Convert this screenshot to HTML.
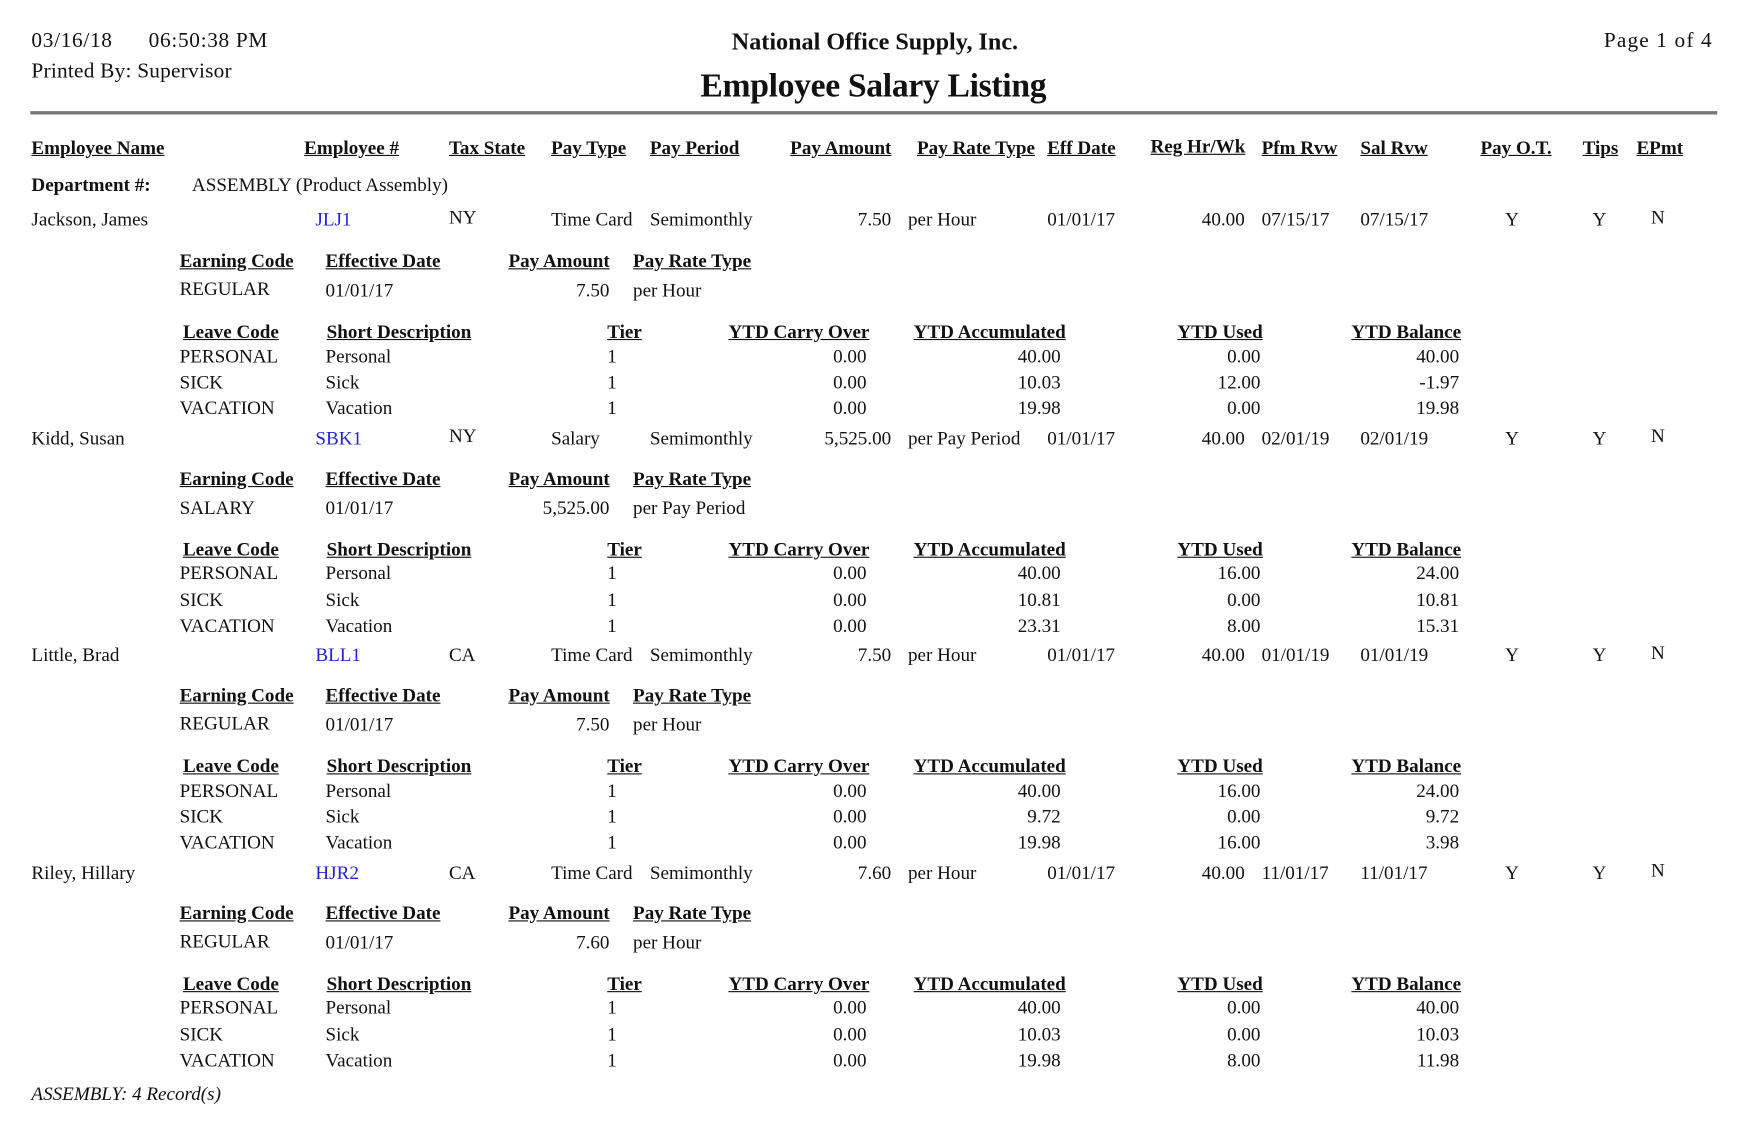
<!DOCTYPE html>
<html><head><meta charset="utf-8"><style>
html,body{margin:0;padding:0;background:#fff;overflow:hidden;width:1759px;height:1121px}
#w{position:absolute;left:0;top:0;width:1567px;height:999px;transform:scale(1.1224);transform-origin:0 0;font-family:"Liberation Serif",serif;font-size:17px;color:#111;letter-spacing:0}
#w div{position:absolute;white-space:nowrap;line-height:20px}
.h{font-weight:bold;text-decoration:underline}
.b{color:#2222dd}
.r{text-align:right}
</style></head><body><div id="w">
<div style="left:28px;top:27px;font-size:19px;letter-spacing:0.6px">03/16/18 &nbsp;&nbsp;&nbsp;&nbsp; 06:50:38 PM</div>
<div style="left:28px;top:54px;font-size:19px;letter-spacing:0.2px">Printed By: Supervisor</div>
<div style="left:652px;top:27px;font-size:21.5px;font-weight:bold">National Office Supply, Inc.</div>
<div style="left:624px;top:61px;font-size:30px;font-weight:bold;line-height:32px;letter-spacing:-0.3px">Employee Salary Listing</div>
<div style="left:1429px;top:27px;font-size:19px;letter-spacing:1px">Page 1 of 4</div>
<div style="left:27px;top:99px;width:1503px;height:3px;background:#777"></div>

<div class="h" style="left:28px;top:122px">Employee Name</div>
<div class="h" style="left:271px;top:122px">Employee #</div>
<div class="h" style="left:400px;top:122px">Tax State</div>
<div class="h" style="left:491px;top:122px">Pay Type</div>
<div class="h" style="left:579px;top:122px">Pay Period</div>
<div class="h" style="left:704px;top:122px">Pay Amount</div>
<div class="h" style="left:817px;top:122px">Pay Rate Type</div>
<div class="h" style="left:933px;top:122px">Eff Date</div>
<div class="h" style="left:1025px;top:121px">Reg Hr/Wk</div>
<div class="h" style="left:1124px;top:122px">Pfm Rvw</div>
<div class="h" style="left:1212px;top:122px">Sal Rvw</div>
<div class="h" style="left:1319px;top:122px">Pay O.T.</div>
<div class="h" style="left:1410px;top:122px">Tips</div>
<div class="h" style="left:1458px;top:122px">EPmt</div>

<div style="left:28px;top:155px;font-weight:bold">Department #:</div>
<div style="left:171px;top:155px">ASSEMBLY (Product Assembly)</div>

<div style="left:28px;top:186px">Jackson, James</div>
<div class="b" style="left:281px;top:186px">JLJ1</div>
<div style="left:400px;top:184px">NY</div>
<div style="left:491px;top:186px">Time Card</div>
<div style="left:579px;top:186px">Semimonthly</div>
<div class="r" style="right:773px;top:186px">7.50</div>
<div style="left:809px;top:186px">per Hour</div>
<div style="left:933px;top:186px">01/01/17</div>
<div class="r" style="right:458px;top:186px">40.00</div>
<div style="left:1124px;top:186px">07/15/17</div>
<div style="left:1212px;top:186px">07/15/17</div>
<div style="left:1341px;top:186px">Y</div>
<div style="left:1419px;top:186px">Y</div>
<div style="left:1471px;top:184px">N</div>
<div class="h" style="left:160px;top:223px">Earning Code</div>
<div class="h" style="left:290px;top:223px">Effective Date</div>
<div class="h" style="left:453px;top:223px">Pay Amount</div>
<div class="h" style="left:564px;top:223px">Pay Rate Type</div>
<div style="left:160px;top:248px">REGULAR</div>
<div style="left:290px;top:249px">01/01/17</div>
<div class="r" style="right:1024px;top:249px">7.50</div>
<div style="left:564px;top:249px">per Hour</div>
<div class="h" style="left:163px;top:286px">Leave Code</div>
<div class="h" style="left:291px;top:286px">Short Description</div>
<div class="h" style="left:541px;top:286px">Tier</div>
<div class="h" style="left:649px;top:286px">YTD Carry Over</div>
<div class="h" style="left:814px;top:286px">YTD Accumulated</div>
<div class="h" style="left:1049px;top:286px">YTD Used</div>
<div class="h" style="left:1204px;top:286px">YTD Balance</div>
<div style="left:160px;top:308px">PERSONAL</div><div style="left:290px;top:308px">Personal</div><div style="left:541px;top:308px">1</div><div class="r" style="right:795px;top:308px">0.00</div><div class="r" style="right:622px;top:308px">40.00</div><div class="r" style="right:444px;top:308px">0.00</div><div class="r" style="right:267px;top:308px">40.00</div>
<div style="left:160px;top:331px">SICK</div><div style="left:290px;top:331px">Sick</div><div style="left:541px;top:331px">1</div><div class="r" style="right:795px;top:331px">0.00</div><div class="r" style="right:622px;top:331px">10.03</div><div class="r" style="right:444px;top:331px">12.00</div><div class="r" style="right:267px;top:331px">-1.97</div>
<div style="left:160px;top:354px">VACATION</div><div style="left:290px;top:354px">Vacation</div><div style="left:541px;top:354px">1</div><div class="r" style="right:795px;top:354px">0.00</div><div class="r" style="right:622px;top:354px">19.98</div><div class="r" style="right:444px;top:354px">0.00</div><div class="r" style="right:267px;top:354px">19.98</div>

<div style="left:28px;top:381px">Kidd, Susan</div>
<div class="b" style="left:281px;top:381px">SBK1</div>
<div style="left:400px;top:379px">NY</div>
<div style="left:491px;top:381px">Salary</div>
<div style="left:579px;top:381px">Semimonthly</div>
<div class="r" style="right:773px;top:381px">5,525.00</div>
<div style="left:809px;top:381px">per Pay Period</div>
<div style="left:933px;top:381px">01/01/17</div>
<div class="r" style="right:458px;top:381px">40.00</div>
<div style="left:1124px;top:381px">02/01/19</div>
<div style="left:1212px;top:381px">02/01/19</div>
<div style="left:1341px;top:381px">Y</div>
<div style="left:1419px;top:381px">Y</div>
<div style="left:1471px;top:379px">N</div>
<div class="h" style="left:160px;top:417px">Earning Code</div>
<div class="h" style="left:290px;top:417px">Effective Date</div>
<div class="h" style="left:453px;top:417px">Pay Amount</div>
<div class="h" style="left:564px;top:417px">Pay Rate Type</div>
<div style="left:160px;top:443px">SALARY</div>
<div style="left:290px;top:443px">01/01/17</div>
<div class="r" style="right:1024px;top:443px">5,525.00</div>
<div style="left:564px;top:443px">per Pay Period</div>
<div class="h" style="left:163px;top:480px">Leave Code</div>
<div class="h" style="left:291px;top:480px">Short Description</div>
<div class="h" style="left:541px;top:480px">Tier</div>
<div class="h" style="left:649px;top:480px">YTD Carry Over</div>
<div class="h" style="left:814px;top:480px">YTD Accumulated</div>
<div class="h" style="left:1049px;top:480px">YTD Used</div>
<div class="h" style="left:1204px;top:480px">YTD Balance</div>
<div style="left:160px;top:501px">PERSONAL</div><div style="left:290px;top:501px">Personal</div><div style="left:541px;top:501px">1</div><div class="r" style="right:795px;top:501px">0.00</div><div class="r" style="right:622px;top:501px">40.00</div><div class="r" style="right:444px;top:501px">16.00</div><div class="r" style="right:267px;top:501px">24.00</div>
<div style="left:160px;top:525px">SICK</div><div style="left:290px;top:525px">Sick</div><div style="left:541px;top:525px">1</div><div class="r" style="right:795px;top:525px">0.00</div><div class="r" style="right:622px;top:525px">10.81</div><div class="r" style="right:444px;top:525px">0.00</div><div class="r" style="right:267px;top:525px">10.81</div>
<div style="left:160px;top:548px">VACATION</div><div style="left:290px;top:548px">Vacation</div><div style="left:541px;top:548px">1</div><div class="r" style="right:795px;top:548px">0.00</div><div class="r" style="right:622px;top:548px">23.31</div><div class="r" style="right:444px;top:548px">8.00</div><div class="r" style="right:267px;top:548px">15.31</div>

<div style="left:28px;top:574px">Little, Brad</div>
<div class="b" style="left:281px;top:574px">BLL1</div>
<div style="left:400px;top:574px">CA</div>
<div style="left:491px;top:574px">Time Card</div>
<div style="left:579px;top:574px">Semimonthly</div>
<div class="r" style="right:773px;top:574px">7.50</div>
<div style="left:809px;top:574px">per Hour</div>
<div style="left:933px;top:574px">01/01/17</div>
<div class="r" style="right:458px;top:574px">40.00</div>
<div style="left:1124px;top:574px">01/01/19</div>
<div style="left:1212px;top:574px">01/01/19</div>
<div style="left:1341px;top:574px">Y</div>
<div style="left:1419px;top:574px">Y</div>
<div style="left:1471px;top:572px">N</div>
<div class="h" style="left:160px;top:610px">Earning Code</div>
<div class="h" style="left:290px;top:610px">Effective Date</div>
<div class="h" style="left:453px;top:610px">Pay Amount</div>
<div class="h" style="left:564px;top:610px">Pay Rate Type</div>
<div style="left:160px;top:635px">REGULAR</div>
<div style="left:290px;top:636px">01/01/17</div>
<div class="r" style="right:1024px;top:636px">7.50</div>
<div style="left:564px;top:636px">per Hour</div>
<div class="h" style="left:163px;top:673px">Leave Code</div>
<div class="h" style="left:291px;top:673px">Short Description</div>
<div class="h" style="left:541px;top:673px">Tier</div>
<div class="h" style="left:649px;top:673px">YTD Carry Over</div>
<div class="h" style="left:814px;top:673px">YTD Accumulated</div>
<div class="h" style="left:1049px;top:673px">YTD Used</div>
<div class="h" style="left:1204px;top:673px">YTD Balance</div>
<div style="left:160px;top:695px">PERSONAL</div><div style="left:290px;top:695px">Personal</div><div style="left:541px;top:695px">1</div><div class="r" style="right:795px;top:695px">0.00</div><div class="r" style="right:622px;top:695px">40.00</div><div class="r" style="right:444px;top:695px">16.00</div><div class="r" style="right:267px;top:695px">24.00</div>
<div style="left:160px;top:718px">SICK</div><div style="left:290px;top:718px">Sick</div><div style="left:541px;top:718px">1</div><div class="r" style="right:795px;top:718px">0.00</div><div class="r" style="right:622px;top:718px">9.72</div><div class="r" style="right:444px;top:718px">0.00</div><div class="r" style="right:267px;top:718px">9.72</div>
<div style="left:160px;top:741px">VACATION</div><div style="left:290px;top:741px">Vacation</div><div style="left:541px;top:741px">1</div><div class="r" style="right:795px;top:741px">0.00</div><div class="r" style="right:622px;top:741px">19.98</div><div class="r" style="right:444px;top:741px">16.00</div><div class="r" style="right:267px;top:741px">3.98</div>

<div style="left:28px;top:768px">Riley, Hillary</div>
<div class="b" style="left:281px;top:768px">HJR2</div>
<div style="left:400px;top:768px">CA</div>
<div style="left:491px;top:768px">Time Card</div>
<div style="left:579px;top:768px">Semimonthly</div>
<div class="r" style="right:773px;top:768px">7.60</div>
<div style="left:809px;top:768px">per Hour</div>
<div style="left:933px;top:768px">01/01/17</div>
<div class="r" style="right:458px;top:768px">40.00</div>
<div style="left:1124px;top:768px">11/01/17</div>
<div style="left:1212px;top:768px">11/01/17</div>
<div style="left:1341px;top:768px">Y</div>
<div style="left:1419px;top:768px">Y</div>
<div style="left:1471px;top:766px">N</div>
<div class="h" style="left:160px;top:804px">Earning Code</div>
<div class="h" style="left:290px;top:804px">Effective Date</div>
<div class="h" style="left:453px;top:804px">Pay Amount</div>
<div class="h" style="left:564px;top:804px">Pay Rate Type</div>
<div style="left:160px;top:829px">REGULAR</div>
<div style="left:290px;top:830px">01/01/17</div>
<div class="r" style="right:1024px;top:830px">7.60</div>
<div style="left:564px;top:830px">per Hour</div>
<div class="h" style="left:163px;top:867px">Leave Code</div>
<div class="h" style="left:291px;top:867px">Short Description</div>
<div class="h" style="left:541px;top:867px">Tier</div>
<div class="h" style="left:649px;top:867px">YTD Carry Over</div>
<div class="h" style="left:814px;top:867px">YTD Accumulated</div>
<div class="h" style="left:1049px;top:867px">YTD Used</div>
<div class="h" style="left:1204px;top:867px">YTD Balance</div>
<div style="left:160px;top:888px">PERSONAL</div><div style="left:290px;top:888px">Personal</div><div style="left:541px;top:888px">1</div><div class="r" style="right:795px;top:888px">0.00</div><div class="r" style="right:622px;top:888px">40.00</div><div class="r" style="right:444px;top:888px">0.00</div><div class="r" style="right:267px;top:888px">40.00</div>
<div style="left:160px;top:912px">SICK</div><div style="left:290px;top:912px">Sick</div><div style="left:541px;top:912px">1</div><div class="r" style="right:795px;top:912px">0.00</div><div class="r" style="right:622px;top:912px">10.03</div><div class="r" style="right:444px;top:912px">0.00</div><div class="r" style="right:267px;top:912px">10.03</div>
<div style="left:160px;top:935px">VACATION</div><div style="left:290px;top:935px">Vacation</div><div style="left:541px;top:935px">1</div><div class="r" style="right:795px;top:935px">0.00</div><div class="r" style="right:622px;top:935px">19.98</div><div class="r" style="right:444px;top:935px">8.00</div><div class="r" style="right:267px;top:935px">11.98</div>

<div style="left:28px;top:965px;font-style:italic">ASSEMBLY: 4 Record(s)</div>
</div></body></html>
